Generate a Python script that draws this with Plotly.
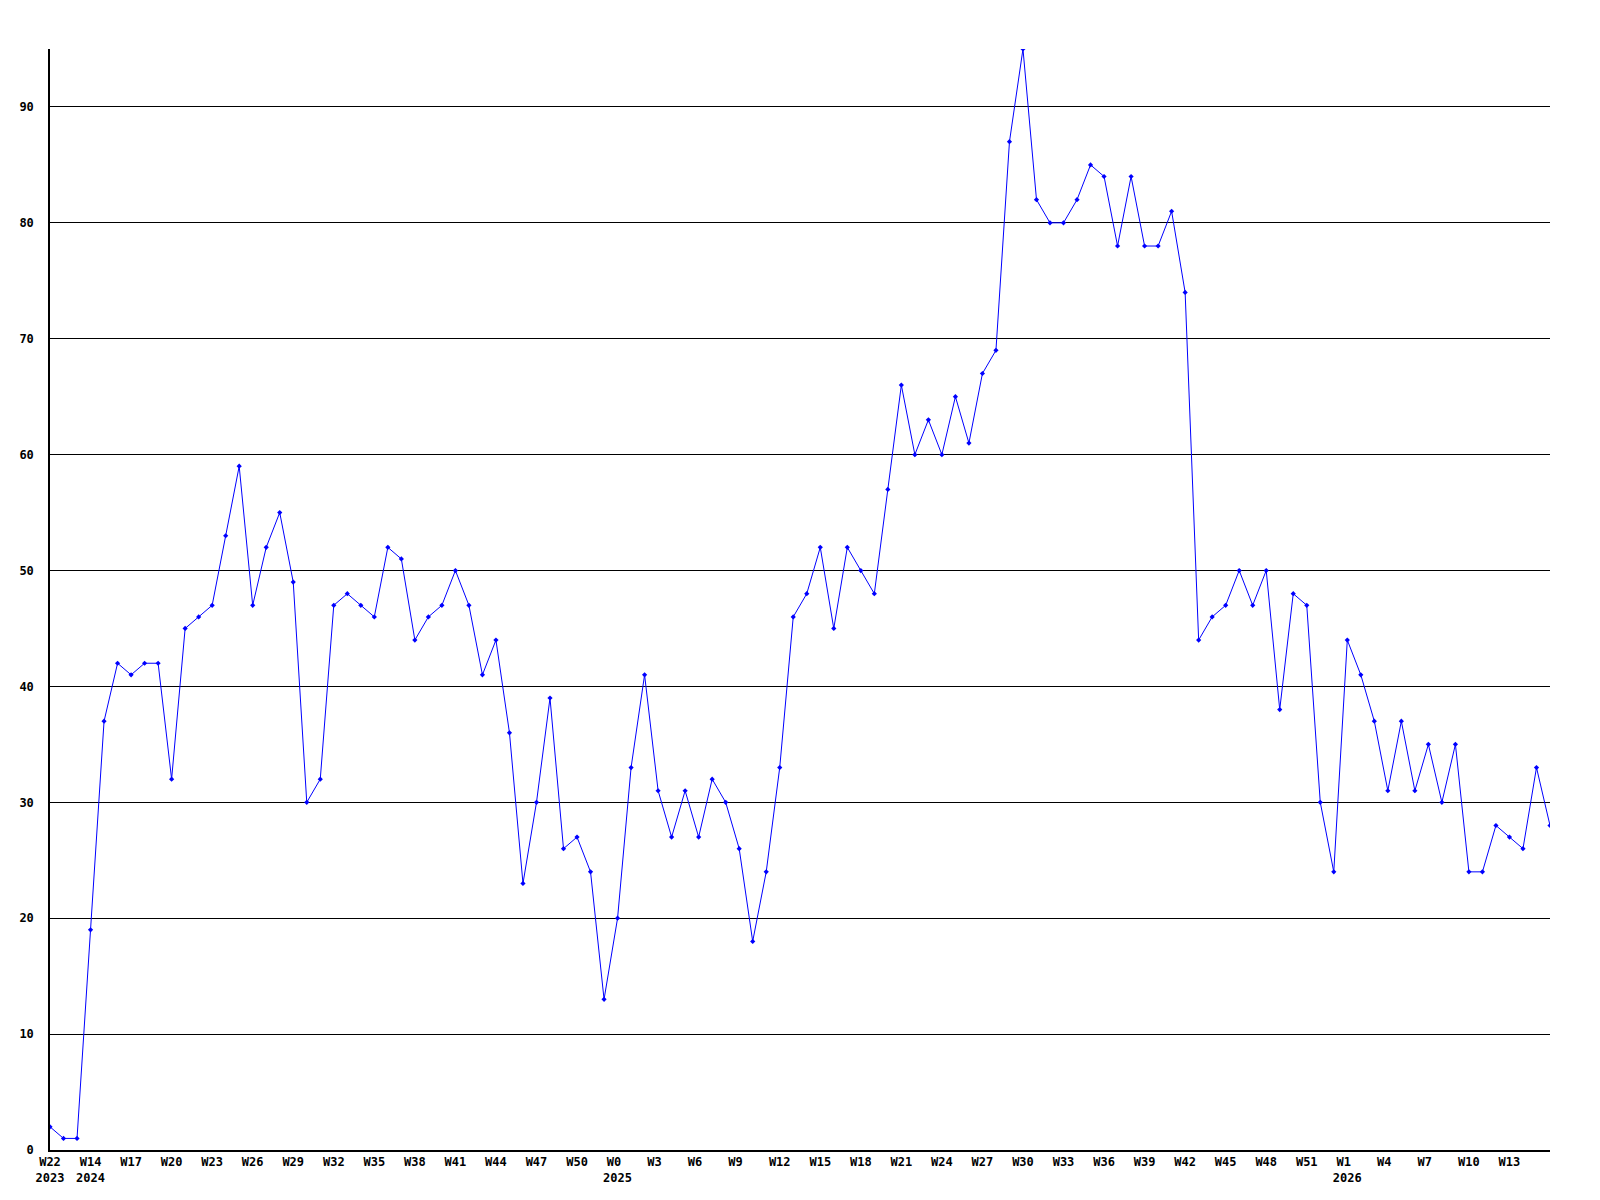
import plotly.graph_objects as go

# Weekly series values (112 weeks)
values = [2, 1, 1, 19, 37, 42, 41, 42, 42, 32,
          45, 46, 47, 53, 59, 47, 52, 55, 49, 30,
          32, 47, 48, 47, 46, 52, 51, 44, 46, 47,
          50, 47, 41, 44, 36, 23, 30, 39, 26, 27,
          24, 13, 20, 33, 41, 31, 27, 31, 27, 32,
          30, 26, 18, 24, 33, 46, 48, 52, 45, 52,
          50, 48, 57, 66, 60, 63, 60, 65, 61, 67,
          69, 87, 95, 82, 80, 80, 82, 85, 84, 78,
          84, 78, 78, 81, 74, 44, 46, 47, 50, 47,
          50, 38, 48, 47, 30, 24, 44, 41, 37, 31,
          37, 31, 35, 30, 35, 24, 24, 28, 27, 26,
          33, 28]

# Week tick labels (every third week) and year labels under some of them
week_labels = ["W22", "W14", "W17", "W20", "W23", "W26", "W29",
               "W32", "W35", "W38", "W41", "W44", "W47", "W50", "W0",
               "W3", "W6", "W9", "W12", "W15", "W18", "W21", "W24", "W27",
               "W30", "W33", "W36", "W39", "W42", "W45", "W48", "W51",
               "W1", "W4", "W7", "W10", "W13"]
year_labels = {0: "2023", 1: "2024", 14: "2025", 32: "2026"}
tick_step = 3
y_ticks = [0, 10, 20, 30, 40, 50, 60, 70, 80, 90]

x_idx = list(range(len(values)))
n = len(values)
tick_pos = [i * tick_step for i in range(len(week_labels))]
tick_text = []
for i, lab in enumerate(week_labels):
    t = lab.ljust(3).replace(" ", "\u00a0")
    if i in year_labels:
        t += "<br>" + year_labels[i]
    tick_text.append(t)

tfont = dict(family="DejaVu Sans Mono", size=12, color="black", weight="bold")

fig = go.Figure()
fig.add_trace(go.Scatter(
    x=x_idx, y=values, mode="lines+markers",
    line=dict(color="#0000ff", width=1),
    marker=dict(symbol="diamond", size=4, color="#0000ff"),
    showlegend=False,
))

fig.update_layout(
    width=1600, height=1200,
    margin=dict(l=42, r=58, t=41, b=58),
    paper_bgcolor="white", plot_bgcolor="white",
    font=dict(family="DejaVu Sans Mono", size=12, color="black"),
    xaxis=dict(
        range=[0, n - 1],
        tickvals=tick_pos, ticktext=tick_text,
        showgrid=False, zeroline=False,
        showline=True, linecolor="black", linewidth=1.5,
        ticks="", tickfont=tfont, automargin=False,
        fixedrange=True,
    ),
    yaxis=dict(
        range=[0, 95],
        tickvals=y_ticks,
        showgrid=True, gridcolor="black", gridwidth=1,
        zeroline=False,
        showline=True, linecolor="black", linewidth=1.5,
        ticks="", ticklabelstandoff=12,
        tickfont=tfont, automargin=False,
        fixedrange=True,
    ),
)

fig.write_html("out.html")
